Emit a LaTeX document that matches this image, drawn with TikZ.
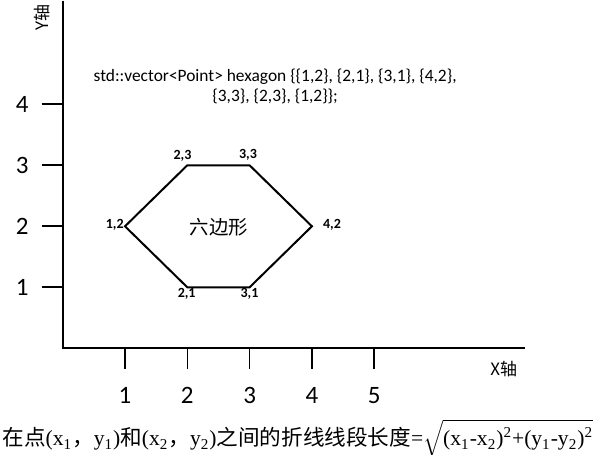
\documentclass[tikz,border=0pt]{standalone}
\usepackage{fontspec}
\setmainfont{Liberation Serif}
\newfontfamily\cjk{Noto Sans CJK SC}
\newfontfamily\calib{Carlito}
\usetikzlibrary{positioning}

\begin{document}
\begin{tikzpicture}[x=31.15pt,y=30.5pt,
    axisline/.style={line width=1pt},
    tickline/.style={line width=0.8pt},
    ticklabel/.style={font=\calib\fontsize{12.5}{12.5}\selectfont,inner sep=0pt},
    axislabel/.style={font=\cjk\fontsize{8.5}{8.5}\selectfont,inner sep=0pt},
    vertexlabel/.style={font=\calib\bfseries\fontsize{7}{7}\selectfont,inner sep=0pt}]
    \useasboundingbox (-31.35pt,-53.35pt) rectangle (268.65pt,174.15pt);

    % axes
    \coordinate (origin) at (0,0);
    \coordinate (ytop) at (0,5.7);
    \coordinate (xend) at (7.42,0);
    \draw[axisline] (ytop) -- (origin) -- (xend);
    \node[axislabel,rotate=90] (ylabel) at (-0.324,5.415) {Y轴};
    \node[axislabel] (xlabel) at (7.08,-0.34) {X轴};

    % ticks and numbers
    \foreach \i in {1,...,5} {
        \coordinate (xtop\i) at (\i,0);
        \coordinate (xbot\i) at (\i,-0.344);
        \draw[tickline] (xtop\i) -- (xbot\i);
        \node[ticklabel] (xnum\i) at (\i,-0.777) {\i};
    }
    \foreach \i in {1,...,4} {
        \coordinate (yright\i) at (0,\i);
        \coordinate (yleft\i) at (-0.337,\i);
        \draw[tickline] (yleft\i) -- (yright\i);
        \node[ticklabel] (ynum\i) at (-0.65,\i) {\i};
    }

    % the points of the hexagon
    \coordinate (p12) at (1,2);
    \coordinate (p23) at (2,3);
    \coordinate (p33) at (3,3);
    \coordinate (p42) at (4,2);
    \coordinate (p31) at (3,1);
    \coordinate (p21) at (2,1);
    \draw[line width=1pt,line join=miter] (p12) -- (p23) -- (p33) -- (p42) -- (p31) -- (p21) -- cycle;

    \node[vertexlabel] (lab23) at (1.923,3.156) {2,3};
    \node[vertexlabel] (lab33) at (2.974,3.169) {3,3};
    \node[vertexlabel] (lab12) at (0.835,2.021) {1,2};
    \node[vertexlabel] (lab42) at (4.323,2.021) {4,2};
    \node[vertexlabel] (lab21) at (1.99,0.89) {2,1};
    \node[vertexlabel] (lab31) at (2.998,0.89) {3,1};

    \node[font=\cjk\fontsize{9.7}{9.7}\selectfont] (hexname) at (2.51,1.99) {六边形};

    \node[font=\calib\fontsize{8.7}{10.35}\selectfont,align=center] (code) at (3.41,4.295)
        {std::vector<Point> hexagon \{\{1,2\}, \{2,1\}, \{3,1\}, \{4,2\},\\ \{3,3\}, \{2,3\}, \{1,2\}\};};

    \node[anchor=west,inner sep=0pt,font=\fontsize{10.8}{10.8}\selectfont] (formula) at (-0.974,-1.47)
        {{\cjk 在点}(x\textsubscript{1}{\cjk ，}y\textsubscript{1}){\cjk 和}(x\textsubscript{2}{\cjk ，}y\textsubscript{2}){\cjk 之间的折线线段长度}=$\sqrt{\hbox{(x\textsubscript{1}-x\textsubscript{2})\textsuperscript{2}+(y\textsubscript{1}-y\textsubscript{2})\textsuperscript{2}}}$};
\end{tikzpicture}
\end{document}
